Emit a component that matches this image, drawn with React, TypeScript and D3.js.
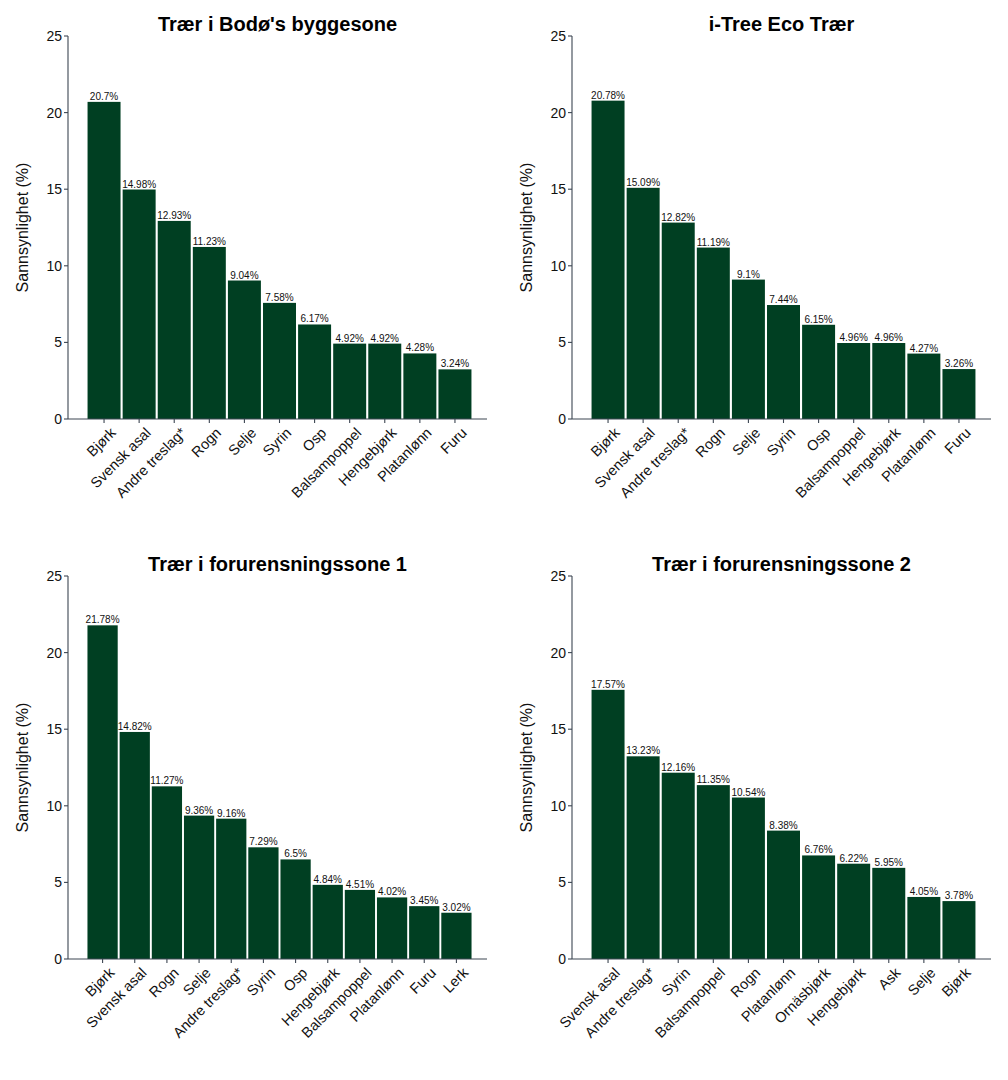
import React from "react";
import * as d3 from "d3";

const titles = [
  "Trær i Bodø's byggesone",
  "i-Tree Eco Trær",
  "Trær i forurensningssone 1",
  "Trær i forurensningssone 2",
];

const cats1 = ["Bjørk", "Svensk asal", "Andre treslag*", "Rogn", "Selje", "Syrin", "Osp", "Balsampoppel", "Hengebjørk", "Platanlønn", "Furu"];
const vals1 = [20.7, 14.98, 12.93, 11.23, 9.04, 7.58, 6.17, 4.92, 4.92, 4.28, 3.24];
const labels1 = ["20.7%", "14.98%", "12.93%", "11.23%", "9.04%", "7.58%", "6.17%", "4.92%", "4.92%", "4.28%", "3.24%"];

const cats2 = ["Bjørk", "Svensk asal", "Andre treslag*", "Rogn", "Selje", "Syrin", "Osp", "Balsampoppel", "Hengebjørk", "Platanlønn", "Furu"];
const vals2 = [20.78, 15.09, 12.82, 11.19, 9.1, 7.44, 6.15, 4.96, 4.96, 4.27, 3.26];
const labels2 = ["20.78%", "15.09%", "12.82%", "11.19%", "9.1%", "7.44%", "6.15%", "4.96%", "4.96%", "4.27%", "3.26%"];

const cats3 = ["Bjørk", "Svensk asal", "Rogn", "Selje", "Andre treslag*", "Syrin", "Osp", "Hengebjørk", "Balsampoppel", "Platanlønn", "Furu", "Lerk"];
const vals3 = [21.78, 14.82, 11.27, 9.36, 9.16, 7.29, 6.5, 4.84, 4.51, 4.02, 3.45, 3.02];
const labels3 = ["21.78%", "14.82%", "11.27%", "9.36%", "9.16%", "7.29%", "6.5%", "4.84%", "4.51%", "4.02%", "3.45%", "3.02%"];

const cats4 = ["Svensk asal", "Andre treslag*", "Syrin", "Balsampoppel", "Rogn", "Platanlønn", "Ornäsbjørk", "Hengebjørk", "Ask", "Selje", "Bjørk"];
const vals4 = [17.57, 13.23, 12.16, 11.35, 10.54, 8.38, 6.76, 6.22, 5.95, 4.05, 3.78];
const labels4 = ["17.57%", "13.23%", "12.16%", "11.35%", "10.54%", "8.38%", "6.76%", "6.22%", "5.95%", "4.05%", "3.78%"];

const yTicks = [0, 5, 10, 15, 20, 25];
const yLabel = "Sannsynlighet (%)";

const panels = [
  { title: titles[0], cats: cats1, vals: vals1, labels: labels1, ox: 68, oy: 36 },
  { title: titles[1], cats: cats2, vals: vals2, labels: labels2, ox: 572, oy: 36 },
  { title: titles[2], cats: cats3, vals: vals3, labels: labels3, ox: 68, oy: 576 },
  { title: titles[3], cats: cats4, vals: vals4, labels: labels4, ox: 572, oy: 576 },
];

const W = 419;
const H = 383;
const BAR = "#003f22";
const AXIS = "#3c4652";
const FONT = "Liberation Sans, Arial, sans-serif";

function Panel({ p }: { p: (typeof panels)[number] }) {
  const y = d3.scaleLinear().domain([0, 25]).range([H, 0]);
  const x = d3
    .scaleBand<string>()
    .domain(p.cats)
    .range([18.5, 404.5])
    .paddingInner(0.06)
    .paddingOuter(0.03);
  return (
    <g transform={`translate(${p.ox},${p.oy})`} fontFamily={FONT}>
      <text x={W / 2} y={-5} textAnchor="middle" fontSize={20} fontWeight="bold" fill="#000">
        {p.title}
      </text>
      <text
        transform={`translate(${-40},${H / 2}) rotate(-90)`}
        textAnchor="middle"
        fontSize={16}
        fill="#111"
      >
        {yLabel}
      </text>
      {p.cats.map((c, i) => (
        <g key={c + i}>
          <rect x={x(c)} y={y(p.vals[i])} width={x.bandwidth()} height={H - y(p.vals[i])} fill={BAR} />
          <text x={(x(c) ?? 0) + x.bandwidth() / 2} y={y(p.vals[i]) - 2} textAnchor="middle" fontSize={10} fill="#111">
            {p.labels[i]}
          </text>
        </g>
      ))}
      <line x1={0} x2={0} y1={0} y2={H} stroke={AXIS} strokeWidth={1.1} />
      <line x1={0} x2={W} y1={H} y2={H} stroke={AXIS} strokeWidth={1.1} />
      {yTicks.map((t) => (
        <g key={t}>
          <line x1={-4} x2={0} y1={y(t)} y2={y(t)} stroke={AXIS} strokeWidth={1.1} />
          <text x={-6} y={y(t)} dy="0.35em" textAnchor="end" fontSize={14} fill="#111">
            {t}
          </text>
        </g>
      ))}
      {p.cats.map((c, i) => {
        const cx = (x(c) ?? 0) + x.bandwidth() / 2;
        return (
          <g key={"t" + c + i}>
            <line x1={cx} x2={cx} y1={H} y2={H + 4} stroke={AXIS} strokeWidth={1.1} />
            <text
              transform={`translate(${cx + 5},${H + 7}) rotate(-45)`}
              textAnchor="end"
              dy="0.75em"
              fontSize={14.5}
              fill="#111"
            >
              {c}
            </text>
          </g>
        );
      })}
    </g>
  );
}

export default function App() {
  return (
    <svg width={1008} height={1080} style={{ position: "absolute", left: 0, top: 0, background: "#fff" }}>
      <rect width={1008} height={1080} fill="#fff" />
      {panels.map((p, i) => (
        <Panel key={i} p={p} />
      ))}
    </svg>
  );
}
